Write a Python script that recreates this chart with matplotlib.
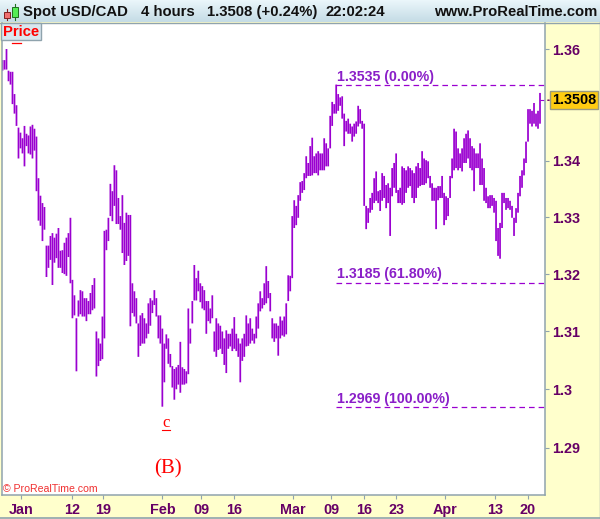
import numpy as np
import matplotlib
matplotlib.use("Agg")
import matplotlib.pyplot as plt
from matplotlib.patches import Rectangle
from matplotlib.ticker import NullLocator

plt.rcParams['font.family'] = ['Liberation Sans', 'DejaVu Sans']

# 4 hour highs and lows, resampled to one column every two pixels of the chart
highs = [1.3580,1.3580,1.3600,1.3561,1.3559,1.3559,1.3519,1.3499,1.3459,1.3450,1.3440,1.3462,1.3448,1.3445,1.3461,1.3464,1.3457,1.3443,
         1.3369,1.3338,1.3325,1.3318,1.3250,1.3250,1.3267,1.3272,1.3264,1.3271,1.3281,1.3241,1.3242,1.3255,1.3264,1.3272,1.3299,1.3190,
         1.3163,1.3123,1.3154,1.3172,1.3170,1.3158,1.3158,1.3153,1.3167,1.3181,1.3193,1.3100,1.3088,1.3079,1.3126,1.3276,1.3278,1.3299,
         1.3359,1.3346,1.3392,1.3383,1.3334,1.3302,1.3339,1.3290,1.3308,1.3304,1.3304,1.3184,1.3170,1.3158,1.3114,1.3128,1.3132,1.3123,
         1.3114,1.3149,1.3158,1.3154,1.3172,1.3158,1.3128,1.3128,1.3105,1.3079,1.3095,1.3088,1.3061,1.3040,1.3035,1.3038,1.3042,1.3082,
         1.3038,1.3035,1.3031,1.3140,1.3105,1.3153,1.3216,1.3193,1.3206,1.3184,1.3179,1.3172,1.3153,1.3153,1.3140,1.3163,1.3100,1.3123,
         1.3114,1.3110,1.3100,1.3088,1.3102,1.3096,1.3096,1.3105,1.3125,1.3096,1.3088,1.3079,1.3088,1.3096,1.3128,1.3114,1.3123,1.3105,
         1.3096,1.3126,1.3149,1.3170,1.3158,1.3184,1.3214,1.3188,1.3167,1.3123,1.3114,1.3114,1.3110,1.3126,1.3119,1.3126,1.3149,1.3198,
         1.3197,1.3302,1.3330,1.3320,1.3339,1.3362,1.3364,1.3378,1.3408,1.3396,1.3426,1.3441,1.3408,1.3413,1.3417,1.3413,1.3413,1.3440,
         1.3431,1.3422,1.3480,1.3505,1.3501,1.3536,1.3519,1.3513,1.3515,1.3484,1.3471,1.3475,1.3466,1.3461,1.3466,1.3470,1.3498,1.3492,
         1.3471,1.3466,1.3320,1.3316,1.3334,1.3343,1.3369,1.3381,1.3346,1.3348,1.3378,1.3373,1.3357,1.3360,1.3352,1.3387,1.3396,1.3413,
         1.3348,1.3352,1.3390,1.3387,1.3383,1.3390,1.3387,1.3383,1.3378,1.3390,1.3396,1.3387,1.3417,1.3404,1.3401,1.3399,1.3373,1.3360,
         1.3352,1.3352,1.3355,1.3355,1.3373,1.3343,1.3337,1.3334,1.3373,1.3404,1.3457,1.3452,1.3422,1.3413,1.3422,1.3440,1.3448,1.3454,
         1.3440,1.3426,1.3422,1.3413,1.3413,1.3431,1.3404,1.3387,1.3352,1.3337,1.3339,1.3339,1.3334,1.3329,1.3281,1.3290,1.3343,1.3343,
         1.3334,1.3334,1.3329,1.3320,1.3299,1.3316,1.3343,1.3373,1.3383,1.3404,1.3434,1.3492,1.3492,1.3489,1.3503,1.3484,1.3489,1.3521]
lows = [1.3561,1.3563,1.3563,1.3542,1.3536,1.3501,1.3484,1.3462,1.3404,1.3422,1.3413,1.3390,1.3426,1.3413,1.3411,1.3404,1.3418,1.3346,
        1.3294,1.3285,1.3258,1.3278,1.3195,1.3211,1.3225,1.3181,1.3220,1.3228,1.3211,1.3211,1.3202,1.3200,1.3197,1.3230,1.3184,1.3123,
        1.3128,1.3031,1.3126,1.3130,1.3126,1.3126,1.3118,1.3130,1.3130,1.3137,1.3140,1.3022,1.3040,1.3049,1.3052,1.3088,1.3242,1.3258,
        1.3302,1.3293,1.3320,1.3288,1.3288,1.3278,1.3237,1.3216,1.3223,1.3232,1.3109,1.3132,1.3126,1.3114,1.3056,1.3075,1.3079,1.3079,
        1.3088,1.3096,1.3110,1.3132,1.3146,1.3126,1.3088,1.3079,1.2970,1.3012,1.3070,1.3044,1.3038,1.3003,1.2982,1.3000,1.3008,1.2994,
        1.3008,1.3008,1.3010,1.3026,1.3079,1.3114,1.3154,1.3154,1.3170,1.3151,1.3140,1.3137,1.3096,1.3118,1.3114,1.3123,1.3065,1.3056,
        1.3068,1.3070,1.3061,1.3042,1.3028,1.3070,1.3074,1.3066,1.3070,1.3066,1.3056,1.3012,1.3049,1.3056,1.3074,1.3075,1.3079,1.3084,
        1.3079,1.3088,1.3105,1.3135,1.3140,1.3146,1.3149,1.3158,1.3135,1.3088,1.3082,1.3088,1.3058,1.3088,1.3093,1.3091,1.3095,1.3153,
        1.3170,1.3193,1.3281,1.3286,1.3299,1.3329,1.3343,1.3348,1.3369,1.3373,1.3373,1.3374,1.3378,1.3378,1.3374,1.3383,1.3383,1.3383,
        1.3390,1.3390,1.3422,1.3462,1.3484,1.3484,1.3489,1.3498,1.3475,1.3426,1.3452,1.3448,1.3448,1.3434,1.3443,1.3448,1.3461,1.3466,
        1.3457,1.3320,1.3279,1.3290,1.3308,1.3313,1.3325,1.3329,1.3325,1.3311,1.3329,1.3334,1.3316,1.3325,1.3267,1.3337,1.3352,1.3343,
        1.3325,1.3325,1.3322,1.3325,1.3343,1.3352,1.3355,1.3334,1.3325,1.3334,1.3352,1.3355,1.3357,1.3357,1.3360,1.3369,1.3352,1.3329,
        1.3329,1.3279,1.3330,1.3334,1.3334,1.3286,1.3295,1.3302,1.3334,1.3369,1.3383,1.3387,1.3383,1.3387,1.3381,1.3396,1.3396,1.3404,
        1.3387,1.3383,1.3346,1.3387,1.3387,1.3357,1.3357,1.3329,1.3325,1.3316,1.3316,1.3320,1.3308,1.3258,1.3232,1.3227,1.3281,1.3325,
        1.3313,1.3316,1.3313,1.3299,1.3267,1.3290,1.3308,1.3337,1.3352,1.3374,1.3396,1.3434,1.3466,1.3461,1.3466,1.3461,1.3457,1.3466]

y_ticks = [1.36, 1.34, 1.33, 1.32, 1.31, 1.30, 1.29]
y_labels = ["1.36", "1.34", "1.33", "1.32", "1.31", "1.3", "1.29"]
x_ticks = [9.5, 34.75, 50.5, 80, 99.5, 116, 145.5, 164.5, 181, 197, 221.5, 246.5, 263]
x_labels = ["Jan", "12", "19", "Feb", "09", "16", "Mar", "09", "16", "23", "Apr", "13", "20"]

fib_levels = [1.3535, 1.3185, 1.2969]
fib_labels = ["1.3535 (0.00%)", "1.3185 (61.80%)", "1.2969 (100.00%)"]
fib_start = 167
last_price = 1.3508

W, H = 600, 519
PURPLE = "#9A00D0"
AXIS_TEXT = "#660066"
GRID = "#8FA3AD"

fig = plt.figure(figsize=(W / 100, H / 100), dpi=100, facecolor="#FFFFCC")
ax = fig.add_axes([1.5 / W, 1 - 495 / H, 543.5 / W, 472 / H], facecolor="white")

x = np.arange(len(highs))
bars = ax.vlines(x, lows, highs, color=PURPLE, lw=1.25, capstyle="butt")
bars.set_snap(False)
ax.hlines(last_price, x[-1], x[-1] + 2, color=PURPLE, lw=0.8)

# retracement levels
for level, label in zip(fib_levels, fib_labels):
    ax.hlines(level, fib_start, 271.5, color=PURPLE, lw=0.9, linestyles=(0, (4.5, 3.2)))
    ax.annotate(label, (fib_start, level), xytext=(0.5, 1), textcoords="offset points",
                va="bottom", ha="left", color="#8A1FC8", fontsize=10.2, fontweight="bold")

ax.set_yscale("log")
ax.set_ylim(1.2819, 1.3647)
ax.set_xlim(-0.5, 271.5)
ax.yaxis.set_minor_locator(NullLocator())
ax.set_yticks(y_ticks)
ax.set_yticklabels(y_labels)
ax.yaxis.tick_right()
ax.set_xticks(x_ticks)
ax.set_xticklabels(x_labels)
ax.tick_params(axis="both", which="major", length=3, width=0.8, color=GRID, labelcolor=AXIS_TEXT, labelsize=10.4)
ax.tick_params(axis="y", pad=2)
ax.tick_params(axis="x", pad=2.8)
for lab in ax.get_xticklabels() + ax.get_yticklabels():
    lab.set_fontweight("bold")
ax.spines["top"].set_visible(False)
for side in ["left", "right", "bottom"]:
    ax.spines[side].set_color(GRID)
    ax.spines[side].set_linewidth(1.1)

# wave marks
ax.annotate("c", (82, 1.2969), xytext=(0, -11.5), textcoords="offset points", ha="center", va="center",
            color="red", fontsize=12, family="Liberation Serif")
ax.annotate("(B)", (83, 1.2969), xytext=(0, -44), textcoords="offset points", ha="center", va="center",
            color="red", fontsize=15, family="Liberation Serif")

# current price tag
ax.annotate("", (271.5, last_price), xytext=(275, last_price), annotation_clip=False,
            arrowprops=dict(arrowstyle="-", color=AXIS_TEXT, lw=1))
ax.annotate("1.3508", (1.0, last_price), xycoords=("axes fraction", "data"), xytext=(5, 0),
            textcoords="offset points", ha="left", va="center", color="black", fontsize=10.4, fontweight="bold",
            bbox=dict(boxstyle="square,pad=0.14", fc="#FFCC11", ec="#9A9A80", lw=1), annotation_clip=False)

# pixel overlay for the window furniture
ov = fig.add_axes([0, 0, 1, 1], facecolor="none")
ov.set_xlim(0, W)
ov.set_ylim(H, 0)
ov.axis("off")
gradient = np.linspace(0, 1, 22).reshape(-1, 1)
ov.imshow(gradient, extent=(0, W, 22, 0), aspect="auto", cmap=matplotlib.colors.LinearSegmentedColormap.from_list(
    "bar", ["#EAF6FA", "#C5DCE6"]), zorder=1)
ov.set_xlim(0, W)
ov.set_ylim(H, 0)
ov.plot([0, W], [22.5, 22.5], color=GRID, lw=1, zorder=2)
ov.plot([0, W], [518, 518], color=GRID, lw=1.2, zorder=2)
ov.plot([599.5, 599.5], [22, H], color=GRID, lw=1, zorder=2)

# candle icon
ov.plot([6.5, 6.5], [9, 20], color="#802020", lw=0.8, zorder=3)
ov.add_patch(Rectangle((3.5, 12), 6, 6, fc="#F07070", ec="#802020", lw=0.7, zorder=4))
ov.plot([14.5, 14.5], [4, 20], color="#207020", lw=0.8, zorder=3)
ov.add_patch(Rectangle((11.5, 7), 6, 10, fc="#55EE55", ec="#207020", lw=0.7, zorder=4))

title_kw = dict(va="center", color="#111111", fontsize=10.7, fontweight="bold", zorder=5)
ov.text(23, 12, "Spot USD/CAD", **title_kw)
ov.text(141, 12, "4 hours", **title_kw)
ov.text(207, 12, "1.3508 (+0.24%)", **title_kw)
ov.text(326, 12, "22:02:24", **title_kw)
ov.text(597, 12, "www.ProRealTime.com", ha="right", **title_kw)

ov.add_patch(Rectangle((0.5, 23), 40.5, 16.5, fc="#D8E6EE", ec=GRID, lw=1, zorder=4))
ov.text(3, 31.5, "Price", color="red", fontsize=10.7, fontweight="bold", va="center", zorder=5)
ov.plot([12, 21], [42.5, 42.5], color="red", lw=0.9, zorder=4)
ov.plot([161.5, 170], [430, 430], color="red", lw=0.8, zorder=4)
ov.text(3, 489, "\u00a9 ProRealTime.com", color="#F03030", fontsize=7.6, va="center", zorder=5)

fig.savefig("out.png", dpi=100, facecolor=fig.get_facecolor())
